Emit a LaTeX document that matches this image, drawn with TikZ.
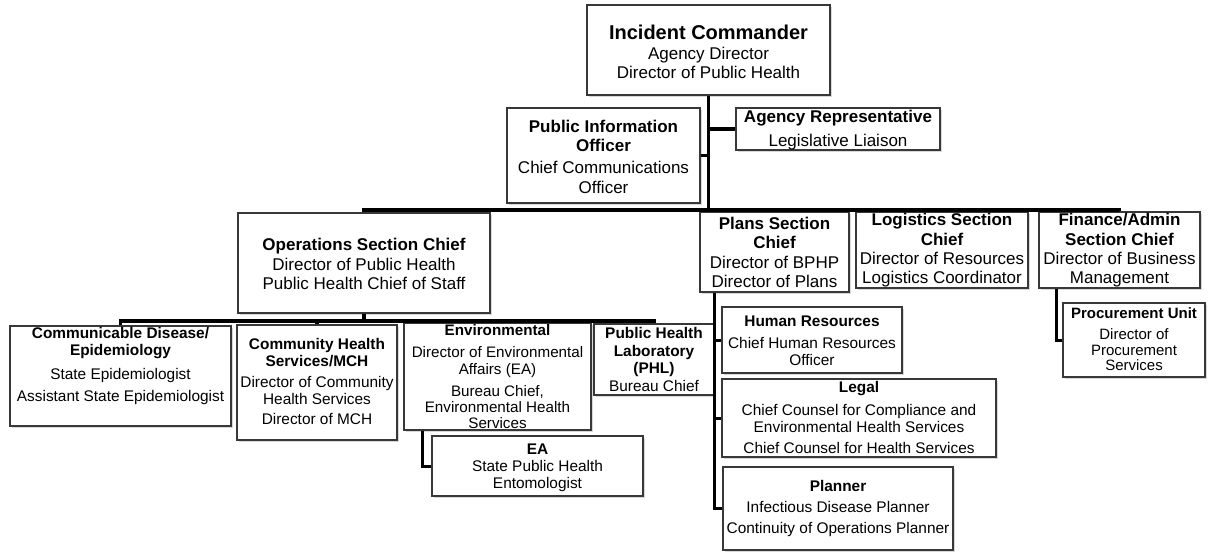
\documentclass[tikz,border=0pt]{standalone}
\usepackage{fontspec}
\setmainfont{Liberation Sans}
\usetikzlibrary{shadows}
\newcommand\boldline[1]{{\bfseries #1}}
\begin{document}
\begin{tikzpicture}[x=1pt,y=-1pt,
  box/.style={draw=black!78, line width=1.3pt, fill=white, inner sep=0pt,
    drop shadow={shadow xshift=1.8pt, shadow yshift=-1.8pt, fill=black!30}},
  big/.style={align=center, inner sep=0pt, font=\fontsize{17}{19.3}\selectfont},
  small/.style={align=center, inner sep=0pt, font=\fontsize{15.4}{17.2}\selectfont},
  conn/.style={line width=3.4pt, black},
  subconn/.style={line width=3pt, black}]
\useasboundingbox (0,0) rectangle (1213,552);

% ---------- boxes ----------
\node[box, minimum width=243pt, minimum height=90pt] (IC) at (708.5,50) {};
\node[box, minimum width=204pt, minimum height=42pt] (AgRep) at (838,129) {};
\node[box, minimum width=193pt, minimum height=95pt] (PIO) at (603.5,155.5) {};
\node[box, minimum width=252pt, minimum height=100pt] (Ops) at (364,263) {};
\node[box, minimum width=149pt, minimum height=80pt] (Plans) at (774.5,252) {};
\node[box, minimum width=172pt, minimum height=76pt] (Log) at (942,250) {};
\node[box, minimum width=161pt, minimum height=76pt] (Fin) at (1119.5,250) {};
\node[box, minimum width=142pt, minimum height=74pt] (Proc) at (1134,340) {};
\node[box, minimum width=180pt, minimum height=66pt] (HR) at (812,340) {};
\node[box, minimum width=274pt, minimum height=78pt] (Legal) at (859,418) {};
\node[box, minimum width=230pt, minimum height=83pt] (Planner) at (838,508.5) {};
\node[box, minimum width=221pt, minimum height=100pt] (CD) at (120.5,376) {};
\node[box, minimum width=160pt, minimum height=115pt] (CH) at (317,382.5) {};
\node[box, minimum width=187pt, minimum height=107pt] (Env) at (497.5,376.5) {};
\node[box, minimum width=120pt, minimum height=71pt] (PHL) at (654,359.5) {};
\node[box, minimum width=211pt, minimum height=60pt] (EA) at (537.5,466) {};

% ---------- texts ----------
\node[big] (ICt) at (708.5,52) {{\fontsize{20}{22}\selectfont\bfseries Incident Commander}\\[1pt]Agency Director\\Director of Public Health};
\node[big] (AgRept) at (838,130) {\boldline{Agency Representative}\\[4.5pt]Legislative Liaison};
\node[big] (PIOt) at (603.5,156.5) {\boldline{Public Information}\\\boldline{Officer}\\[3pt]Chief Communications\\Officer};
\node[big] (Opst) at (364,264) {\boldline{Operations Section Chief}\\Director of Public Health\\Public Health Chief of Staff};
\node[big] (Planst) at (774.5,252.5) {\boldline{Plans Section}\\\boldline{Chief}\\Director of BPHP\\Director of Plans};
\node[big] (Logt) at (942,250.5) {\boldline{Logistics Section}\\\boldline{Chief}\\Director of Resources\\Logistics Coordinator};
\node[big] (Fint) at (1119.5,250.5) {\boldline{Finance/Admin}\\\boldline{Section Chief}\\Director of Business\\Management};
\node[small, font=\fontsize{15}{15.3}\selectfont] (Proct) at (1134,339) {\boldline{Procurement Unit}\\[6.5pt]Director of\\Procurement\\Services};
\node[small] (HRt) at (812,340.5) {\boldline{Human Resources}\\[5pt]Chief Human Resources\\Officer};
\node[small] (Legalt) at (859,417.5) {\boldline{Legal}\\[6pt]Chief Counsel for Compliance and\\Environmental Health Services\\[4pt]Chief Counsel for Health Services};
\node[small] (Plannert) at (838,508.5) {\boldline{Planner}\\[4pt]Infectious Disease Planner\\[4.5pt]Continuity of Operations Planner};
\node[small] (CDt) at (120.5,366) {\boldline{Communicable Disease/}\\\boldline{Epidemiology}\\[6pt]State Epidemiologist\\[5pt]Assistant State Epidemiologist};
\node[small] (CHt) at (317,381.5) {\boldline{Community Health}\\\boldline{Services/MCH}\\[3pt]Director of Community\\Health Services\\[3pt]Director of MCH};
\node[small, font=\fontsize{15.2}{16.3}\selectfont] (Envt) at (497.5,376.5) {\boldline{Environmental}\\[6.5pt]Director of Environmental\\Affairs (EA)\\[5.5pt]Bureau Chief,\\Environmental Health\\Services};
\node[small, font=\fontsize{15.4}{17.7}\selectfont] (PHLt) at (654,359.5) {\boldline{Public Health}\\\boldline{Laboratory}\\\boldline{(PHL)}\\Bureau Chief};
\node[small] (EAt) at (537.5,467.5) {\boldline{EA}\\State Public Health\\Entomologist};

% ---------- connectors ----------
\coordinate (bar) at (0,210);
\coordinate (sub) at (0,321);
\draw[conn] (IC.south) -- (IC.south |- bar);
\draw[conn] (AgRep.west) -- (AgRep.west -| IC.south);
\draw[conn] (PIO.east) -- (PIO.east -| IC.south);
\draw[conn] (Ops.north) -- (Ops.north |- bar) -- (Fin.north |- bar) -- (Fin.north);
\draw[conn] (Plans.north) -- (Plans.north |- bar);
\draw[conn] (Log.north) -- (Log.north |- bar);

\draw[conn] (Ops.south) -- (Ops.south |- sub);
\draw[conn] (CD.north) -- (CD.north |- sub) -- (PHL.north |- sub) -- (PHL.north);
\draw[conn] (CH.north) -- (CH.north |- sub);
\draw[conn] (Env.north) -- (Env.north |- sub);

\draw[subconn] ([xshift=19pt]Env.south west) |- (EA.west);

\coordinate (pv) at ([xshift=15pt]Plans.south west);
\draw[subconn] (pv) |- (Planner.west);
\draw[subconn] (HR.west) -- (HR.west -| pv);
\draw[subconn] (Legal.west) -- (Legal.west -| pv);

\draw[subconn] ([xshift=18pt]Fin.south west) |- (Proc.west);
\end{tikzpicture}
\end{document}
